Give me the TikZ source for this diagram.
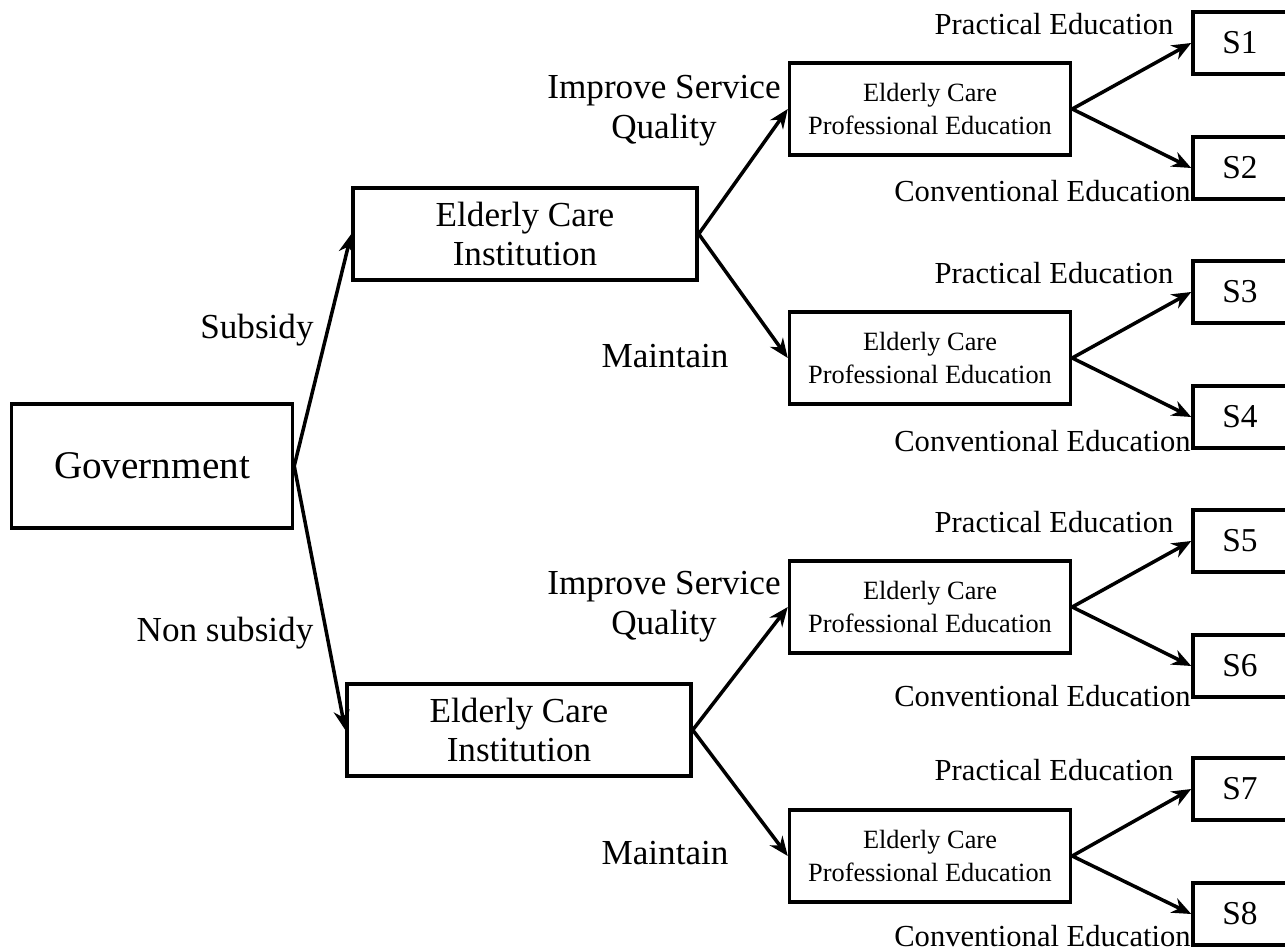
\documentclass[tikz,border=0pt]{standalone}
\usepackage{fontspec}
\setmainfont{Liberation Serif}
\usetikzlibrary{positioning,arrows.meta}

\begin{document}
\begin{tikzpicture}[x=0.02cm, y=-0.02cm,
  box/.style={draw, line width=2pt, align=center, inner sep=0pt},
  govbox/.style={box, minimum width=5.62cm, minimum height=2.48cm, font=\fontsize{22.3}{26}\selectfont},
  instbox/.style={box, minimum width=6.88cm, minimum height=1.84cm, font=\fontsize{20}{22.7}\selectfont},
  edubox/.style={box, minimum width=5.62cm, minimum height=1.84cm, font=\fontsize{15}{18.6}\selectfont},
  sbox/.style={box, minimum width=1.88cm, minimum height=1.24cm, font=\fontsize{19}{22}\selectfont},
  lbl/.style={align=center, inner sep=0pt, font=\fontsize{20}{22.7}\selectfont},
  edulbl/.style={inner sep=0pt, font=\fontsize{17.4}{20}\selectfont}]
\useasboundingbox (0,0) rectangle (1285,952);
\clip (0,0) rectangle (1285,952);

% players
\node[govbox] (gov) at (152,466) {Government};
\node[instbox] (inst1) at (525,234) {Elderly Care\\Institution};
\node[instbox] (inst2) at (519,730) {Elderly Care\\Institution};
\node[edubox] (edu1) at (930,109) {Elderly Care\\Professional Education};
\node[edubox] (edu2) at (930,358) {Elderly Care\\Professional Education};
\node[edubox] (edu3) at (930,607) {Elderly Care\\Professional Education};
\node[edubox] (edu4) at (930,856) {Elderly Care\\Professional Education};

% outcomes
\foreach \i/\y in {1/43, 2/168, 3/292, 4/417, 5/541, 6/666, 7/789, 8/914}
  \node[sbox] (s\i) at (1240,\y) {S\i};

% strategies
\node[lbl] (sub) at (257,330) {Subsidy};
\node[lbl] (nonsub) at (225,633) {Non subsidy};
\node[lbl] (imp1) at (664,111) {Improve Service\\Quality};
\node[lbl] (mnt1) at (665,356) {Maintain};
\node[lbl] (imp2) at (664,607) {Improve Service\\Quality};
\node[lbl] (mnt2) at (665,853) {Maintain};
\foreach \j/\yp/\yc in {1/24/191, 2/273/441, 3/522/696, 4/770/936} {
  \node[edulbl] (prac\j) at (1054,\yp) {Practical Education};
  \node[edulbl, anchor=east] (conv\j) at (1191,\yc) {Conventional Education};
}

\path [-{Stealth[length=11pt, width=9pt]}, line width=2pt]
    (gov.east) edge (inst1.west)
    (gov.east) edge (inst2.west)
    (inst1.east) edge (edu1.west)
    (inst1.east) edge (edu2.west)
    (inst2.east) edge (edu3.west)
    (inst2.east) edge (edu4.west)
    (edu1.east) edge (s1.west)
    (edu1.east) edge (s2.west)
    (edu2.east) edge (s3.west)
    (edu2.east) edge (s4.west)
    (edu3.east) edge (s5.west)
    (edu3.east) edge (s6.west)
    (edu4.east) edge (s7.west)
    (edu4.east) edge (s8.west);
\end{tikzpicture}
\end{document}
